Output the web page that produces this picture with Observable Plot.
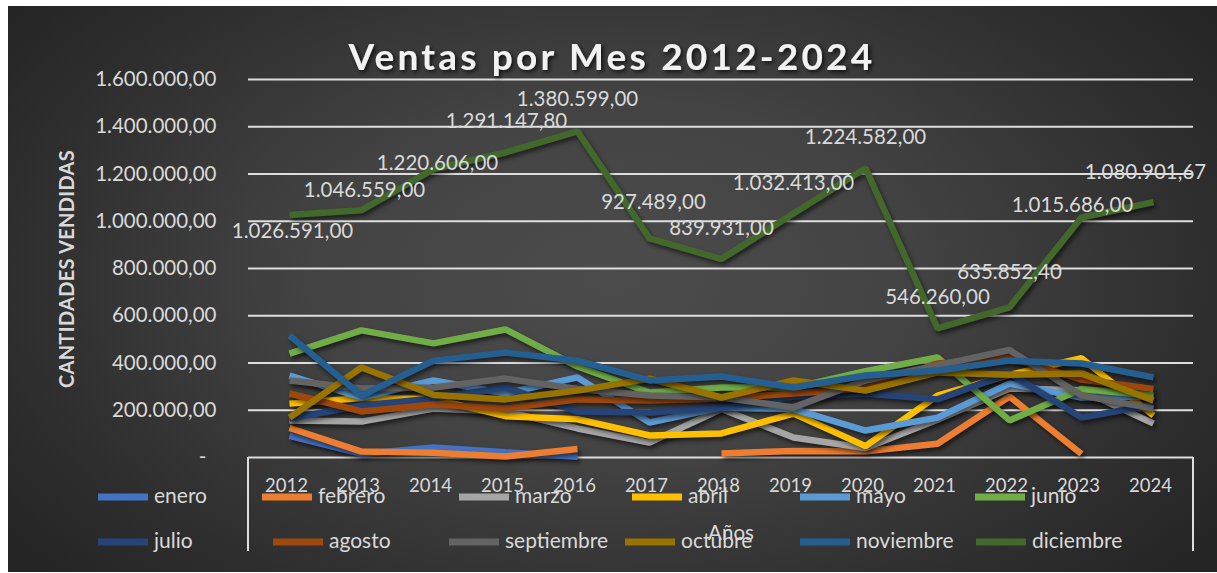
<!DOCTYPE html>
<html><head><meta charset="utf-8">
<script src="https://cdn.jsdelivr.net/npm/d3@7"></script>
<script src="https://cdn.jsdelivr.net/npm/@observablehq/plot@0.6"></script>
<style>
body{margin:0;background:#fff;}
#wrap{position:relative;width:1217px;height:573px;overflow:hidden;font-family:Lato,"Open Sans",sans-serif;}
#bg{position:absolute;left:8px;top:6px;right:0;bottom:1px;background:radial-gradient(ellipse 62% 78% at 50% 48%, #4c4c4c 0%, #434343 40%, #2e2e2e 80%, #252525 100%);}
#plot{position:absolute;left:0;top:0;}
#overlay{position:absolute;left:0;top:0;}
#plot g[aria-label="line"] path{filter:drop-shadow(2px 3px 2px rgba(0,0,0,0.55));}
</style>
</head><body><div id="wrap"><div id="bg"></div><div id="plot"></div><svg id="overlay" width="1217" height="573"></svg></div>
<script>
const years = ["2012","2013","2014","2015","2016","2017","2018","2019","2020","2021","2022","2023","2024"];
const months = ["enero","febrero","marzo","abril","mayo","junio","julio","agosto","septiembre","octubre","noviembre","diciembre"];
const colors = ["#4472C4","#ED7D31","#A5A5A5","#FFC000","#5B9BD5","#70AD47","#264478","#9E480E","#636363","#997300","#255E91","#43682B"];
const yTicks = [0,200000,400000,600000,800000,1000000,1200000,1400000,1600000];

const enero      = [92000, 15000, 42000, 22000, 3000, null, null, null, null, null, null, null, null];
const febrero    = [125000, 25000, 20000, 4000, 36000, null, 17000, 28000, 26000, 58000, 258000, 15000, null];
const marzo      = [157000, 152000, 207000, 195000, 123000, 63000, 205000, 85000, 40000, 160000, 292000, 285000, 144000];
const abril      = [228000, 252000, 248000, 175000, 162000, 93000, 102000, 186000, 48000, 262000, 350000, 420000, 178000];
const mayo       = [347000, 254000, 326000, 271000, 339000, 148000, 212000, 205000, 114000, 169000, 313000, 254000, 258000];
const junio      = [440000, 538000, 483000, 542000, 385000, 275000, 296000, 296000, 365000, 423000, 157000, 290000, 262000];
const julio      = [165000, 220000, 250000, 296000, 195000, 190000, 212000, 258000, 271000, 246000, 356000, 169000, 224000];
const agosto     = [271000, 195000, 224000, 207000, 246000, 241000, 250000, 271000, 292000, 398000, 423000, 330000, 290000];
const septiembre = [326000, 292000, 296000, 334000, 290000, 262000, 254000, 212000, 326000, 390000, 455000, 262000, 207000];
const octubre    = [169000, 381000, 265000, 246000, 283000, 334000, 254000, 326000, 283000, 360000, 350000, 356000, 241000];
const noviembre  = [516000, 262000, 410000, 444000, 410000, 326000, 343000, 296000, 347000, 368000, 410000, 398000, 339000];
const diciembre  = [1026591, 1046559, 1220606, 1291147.8, 1380599, 927489, 839931, 1032413, 1224582, 546260, 635852.4, 1015686, 1080901.67];

const series = [enero,febrero,marzo,abril,mayo,junio,julio,agosto,septiembre,octubre,noviembre,diciembre];

// label placement offsets (layout only)
const labelDx = [3, 3, 4, 1, 0, 4, 0, 0, 0, 0, 0, -9, -8];
const labelDy = [16, -20, -6, -31, -32, -36, -31, -30, -31, -31, -35, -12, -30];

const loc = d3.formatLocale({decimal: ",", thousands: ".", grouping: [3], currency: ["", ""]});
const fmt = loc.format(",.2f");
const tickFmt = d => d === 0 ? "-\u2002" : fmt(d);

const rows = months.flatMap((m, i) => series[i].map((v, j) => ({month: m, year: years[j], value: v})));
const labelRows = diciembre.map((v, j) => ({year: years[j], value: v, text: fmt(v), dx: labelDx[j], dy: labelDy[j]}));

const font = "Lato, 'Open Sans', sans-serif";
const txt = "#d9d9d9";

const plot = Plot.plot({
  width: 1217, height: 573,
  marginLeft: 248, marginRight: 24, marginTop: 79, marginBottom: 116,
  style: {background: "transparent", fontFamily: font, overflow: "visible"},
  x: {type: "point", domain: years, padding: 0.5, label: null},
  y: {domain: [0, 1600000], label: null},
  color: {domain: months, range: colors},
  marks: [
    Plot.ruleY(yTicks, {stroke: "#dedede", strokeWidth: 2}),
    Plot.axisY({ticks: yTicks, tickSize: 0, tickPadding: 32, tickFormat: tickFmt, fontSize: 20.5, color: txt, label: null}),
    Plot.axisX({tickSize: 0, tickPadding: 21, fontSize: 18.5, color: txt, label: null, dx: -3}),
    Plot.line(rows, {x: "year", y: "value", z: "month", stroke: "month", strokeWidth: 6.5, strokeLinecap: "butt", strokeLinejoin: "miter"}),
    ...labelRows.map(r => Plot.text([r], {x: "year", y: "value", text: "text", dx: r.dx, dy: r.dy, fill: txt, fontSize: 20.5}))
  ]
});
document.getElementById("plot").appendChild(plot);

// overlay: title, axis titles, legend, frame
const svg = d3.select("#overlay");
const defs = svg.append("defs");
const f = defs.append("filter").attr("id", "sh").attr("x", "-10%").attr("y", "-30%").attr("width", "120%").attr("height", "160%");
f.append("feDropShadow").attr("dx", 2).attr("dy", 2).attr("stdDeviation", 2).attr("flood-color", "#000").attr("flood-opacity", 0.75);

svg.append("text").attr("x", 612).attr("y", 70).attr("text-anchor", "middle")
  .attr("font-family", font).attr("font-weight", 700).attr("font-size", 37).attr("letter-spacing", 3.2)
  .attr("fill", "#f2f2f2").attr("filter", "url(#sh)").text("Ventas por Mes 2012-2024");

svg.append("text").attr("transform", "translate(74,269) rotate(-90)").attr("text-anchor", "middle")
  .attr("font-family", font).attr("font-weight", 700).attr("font-size", 20).attr("letter-spacing", 0.3)
  .attr("fill", txt).text("CANTIDADES VENDIDAS");

// frame around category area
[248, 1193].forEach(x => svg.append("line").attr("x1", x).attr("x2", x).attr("y1", 457).attr("y2", 551)
  .attr("stroke", "#dedede").attr("stroke-width", 2));

// x-axis title
svg.append("text").attr("x", 731).attr("y", 540).attr("text-anchor", "middle")
  .attr("font-family", font).attr("font-size", 20.5).attr("fill", txt).text("Años");

// legend
const legendX1 = [98, 262, 459, 632, 800, 975];
const legendX2 = [98, 273, 449, 625, 800, 976];
months.forEach((m, i) => {
  const row = i < 6 ? 0 : 1;
  const sx = row === 0 ? legendX1[i] : legendX2[i - 6];
  const sy = row === 0 ? 497 : 542;
  const sw = 50;
  svg.append("rect").attr("x", sx).attr("y", sy - 3.5).attr("width", sw).attr("height", 7).attr("fill", colors[i]);
  svg.append("text").attr("x", sx + sw + 6).attr("y", sy + 6).attr("font-family", font).attr("font-size", 21)
    .attr("fill", txt).text(m);
});
</script></body></html>
